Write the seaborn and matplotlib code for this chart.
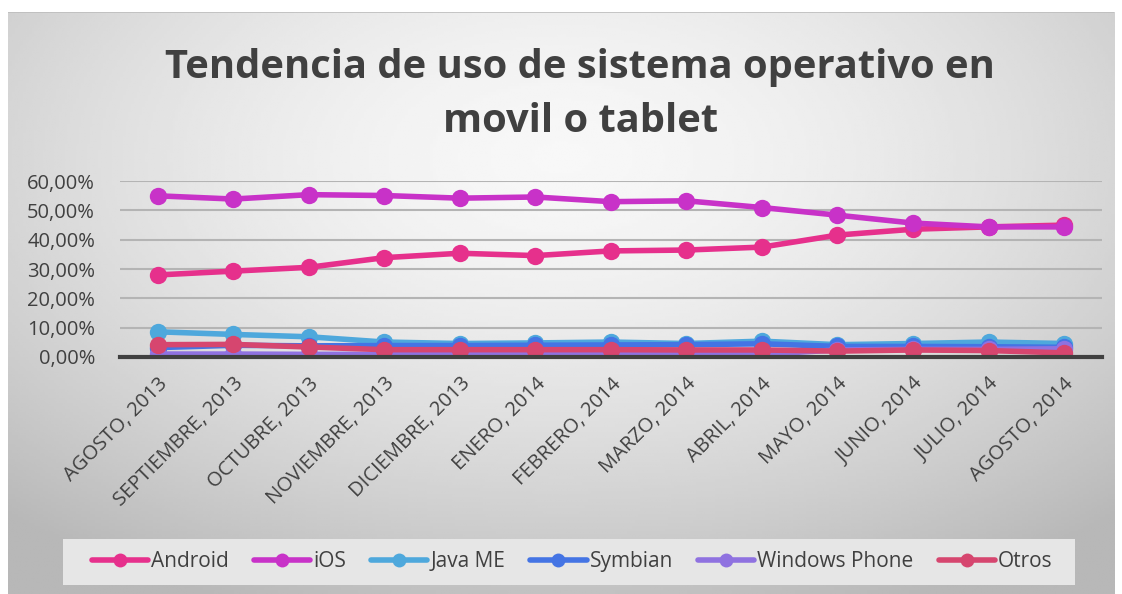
import numpy as np
import pandas as pd
import seaborn as sns
from matplotlib import pyplot as plt
from matplotlib.lines import Line2D
from matplotlib.patches import Rectangle
from matplotlib.ticker import FuncFormatter, MultipleLocator

months = ['AGOSTO, 2013', 'SEPTIEMBRE, 2013', 'OCTUBRE, 2013', 'NOVIEMBRE, 2013',
          'DICIEMBRE, 2013', 'ENERO, 2014', 'FEBRERO, 2014', 'MARZO, 2014',
          'ABRIL, 2014', 'MAYO, 2014', 'JUNIO, 2014', 'JULIO, 2014', 'AGOSTO, 2014']

android = [28.0, 29.3, 30.6, 33.9, 35.4, 34.6, 36.2, 36.5, 37.5, 41.6, 43.6, 44.4, 45.0]
ios = [55.0, 53.9, 55.4, 55.1, 54.2, 54.6, 53.0, 53.3, 51.0, 48.4, 45.7, 44.4, 44.4]
java_me = [8.6, 7.7, 6.9, 5.1, 4.6, 4.8, 5.1, 4.6, 5.4, 4.2, 4.6, 5.1, 4.6]
symbian = [3.2, 4.0, 3.8, 3.9, 3.9, 4.0, 4.1, 4.2, 4.5, 3.6, 3.6, 3.5, 3.3]
windows_phone = [1.0, 1.0, 0.9, 0.9, 0.9, 0.9, 0.8, 0.8, 0.9, 2.4, 2.6, 2.6, 2.8]
otros = [4.2, 4.3, 3.4, 2.5, 2.5, 2.5, 2.5, 2.4, 2.4, 2.0, 2.4, 2.2, 1.4]

series = {'Android': android, 'iOS': ios, 'Java ME': java_me,
          'Symbian': symbian, 'Windows Phone': windows_phone, 'Otros': otros}
colors = {'Android': '#e6308c', 'iOS': '#c832c8', 'Java ME': '#4ea8dc',
          'Symbian': '#4474e4', 'Windows Phone': '#8f72e0', 'Otros': '#d6466f'}

rows = []
for name, vals in series.items():
    for i, v in enumerate(vals):
        rows.append({'mes': i, 'valor': v / 100, 'sistema': name})
df = pd.DataFrame(rows)

sns.set_theme(style='white')
plt.rcParams['font.family'] = ['Open Sans', 'DejaVu Sans']
txt = '#404040'

fig = plt.figure(figsize=(11.22, 5.94), dpi=100)

# chart background: grey radial gradient with white margin
bg = fig.add_axes([0.007, 0.0, 0.986, 0.979])
yy, xx = np.mgrid[0:1:200j, 0:1:400j]
r = np.sqrt(((xx - 0.5) * 1.0) ** 2 + ((yy - 0.25) * 0.9) ** 2)
bg.imshow(0.97 - 0.25 * np.clip(r / 0.75, 0, 1) ** 1.6, cmap='gray', vmin=0, vmax=1,
          aspect='auto', extent=[0, 1, 0, 1], origin='upper')
bg.set_axis_off()
bg.add_line(Line2D([0, 1], [1, 1], color='#bdbdbd', lw=1.2, transform=bg.transAxes))

ax = fig.add_axes([0.107, 0.399, 0.875, 0.296])
ax.patch.set_alpha(0)
sns.lineplot(data=df, x='mes', y='valor', hue='sistema', palette=colors, ax=ax,
             marker='o', markersize=12.5, markeredgewidth=0, linewidth=4,
             sort=False, legend=False)

ax.set_xlim(-0.5, len(months) - 0.5)
ax.set_ylim(0, 0.6)
ax.yaxis.set_major_locator(MultipleLocator(0.1))
ax.yaxis.set_major_formatter(FuncFormatter(lambda v, p: f'{v * 100:.2f}%'.replace('.', ',')))
ax.grid(axis='y', color='#b4b4b4', lw=1.5)
ax.set_axisbelow(True)
for s in ['top', 'right', 'left']:
    ax.spines[s].set_visible(False)
ax.spines['bottom'].set_color('#404040')
ax.spines['bottom'].set_linewidth(3)
ax.set_xlabel('')
ax.set_ylabel('')

ax.set_xticks(range(len(months)))
ax.set_xticklabels(months, rotation=45, ha='right', rotation_mode='anchor',
                   fontsize=14.5, color=txt)
ax.set_xticks(np.arange(-0.5, len(months)), minor=True)
ax.tick_params(axis='x', which='major', length=0, pad=12)
ax.tick_params(axis='x', which='minor', length=6, width=2.5, color='#404040', direction='out')
ax.tick_params(axis='y', length=0, labelsize=14.5, labelcolor=txt, pad=18)

fig.text(0.517, 0.841, 'Tendencia de uso de sistema operativo en\nmovil o tablet',
         ha='center', va='center', fontsize=28.7, fontweight='bold', color=txt,
         linespacing=1.5)

# legend box
fig.patches.append(Rectangle((0.056, 0.015), 0.902, 0.078, transform=fig.transFigure,
                             facecolor='#e6e6e6', edgecolor='none', zorder=1))
handles = [Line2D([], [], color=colors[n], lw=4, marker='o', markersize=10,
                  markeredgewidth=0) for n in series]
fig.legend(handles, list(series), loc='center', bbox_to_anchor=(0.51, 0.054),
           ncol=6, frameon=False, fontsize=15, handlelength=2.7,
           handletextpad=0.15, columnspacing=1.2, labelcolor=txt)

fig.savefig('out.png', dpi=100)
